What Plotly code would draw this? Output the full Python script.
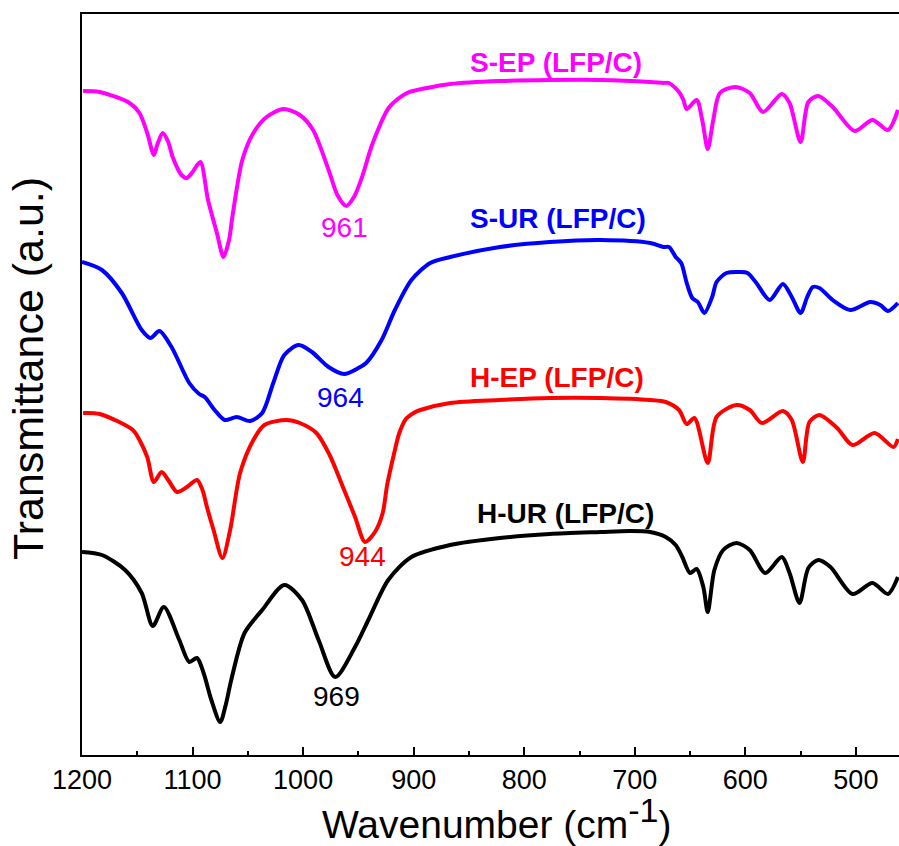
import plotly.graph_objects as go

# ---- data (wavenumber in cm^-1, transmittance in a.u., curves already offset) ----
sep_wn = [1199, 1184, 1157, 1148, 1141, 1135, 1132, 1127, 1122, 1118, 1110, 1105, 1100, 1093, 1086,
          1078, 1072, 1067, 1064, 1055, 1045, 1033, 1018, 1003, 991, 976, 969, 961, 954, 947, 937, 922, 906,
          888, 867, 822, 777, 731, 686, 674, 669, 660, 656, 653, 644, 639, 634, 629, 623, 609, 596, 584, 567,
          560, 550, 543, 534, 521, 501, 485, 471, 462]
sep_t = [664, 663, 652, 642, 622, 600, 610, 622, 613, 598, 580, 577, 583, 593, 555,
         522, 498, 515, 538, 595, 622, 638, 646, 640, 625, 582, 560, 549, 558, 577, 612, 648, 662,
         667, 671, 674, 675, 675, 673, 672, 672, 663, 655, 646, 655, 635, 606, 635, 662, 668, 662, 643, 661,
         652, 613, 653, 659, 648, 624, 635, 625, 645]

sur_wn = [1200, 1182, 1164, 1146, 1138, 1130, 1119, 1103, 1094, 1089, 1080, 1071, 1060, 1048, 1037, 1027,
          1017, 1004, 992, 977, 963, 950, 943, 929, 917, 902, 885, 867, 822, 777, 731, 686, 674, 669, 663,
          658, 653, 648, 643, 637, 630, 626, 617, 605, 598, 590, 578, 566, 558, 550, 544, 539, 533, 521,
          505, 487, 478, 471, 462]
sur_t = [493, 485, 462, 425, 417, 424, 408, 372, 361, 358, 345, 335, 338, 334, 342, 372,
         400, 410, 403, 388, 381, 387, 392, 415, 445, 475, 492, 498, 508, 513, 515, 512, 508, 508, 498,
         492, 472, 457, 453, 442, 458, 473, 482, 483, 482, 472, 455, 471, 458, 442, 458, 468, 467, 455,
         445, 453, 450, 444, 452]

hep_wn = [1199, 1184, 1154, 1148, 1141, 1135, 1128, 1122, 1114, 1105, 1096, 1091, 1087, 1081, 1073, 1066,
          1057, 1045, 1035, 1015, 1003, 988, 976, 964, 953, 944, 935, 928, 924, 918, 913, 907, 900, 894,
          867, 822, 777, 731, 686, 672, 660, 653, 646, 634, 626, 608, 596, 585, 566, 558, 548, 542, 533,
          517, 503, 483, 466, 462]
hep_t = [342, 341, 325, 315, 298, 273, 283, 275, 263, 268, 275, 265, 248, 225, 197, 225,
         282, 315, 330, 335, 332, 322, 300, 268, 238, 213, 223, 242, 270, 300, 322, 336, 342, 345,
         352, 355, 357, 357, 355, 353, 345, 331, 337, 292, 338, 350, 345, 332, 344, 335, 293, 333, 340,
         327, 310, 322, 308, 316]

hur_wn = [1200, 1182, 1161, 1146, 1136, 1126, 1112, 1103, 1096, 1090, 1083, 1075, 1070, 1065, 1053, 1037,
          1017, 1001, 986, 971, 953, 941, 923, 902, 867, 822, 777, 731, 704, 686, 672, 663, 657, 650, 644,
          638, 634, 628, 620, 608, 596, 582, 567, 560, 551, 543, 534, 523, 503, 485, 471, 462]
hur_t = [203, 200, 185, 162, 129, 148, 115, 93, 97, 82, 55, 33, 50, 75, 122, 145,
         170, 155, 115, 78, 108, 135, 175, 198, 210, 217, 221, 223, 224, 223, 218, 210, 198, 182, 186,
         168, 143, 185, 205, 212, 205, 182, 198, 182, 152, 187, 195, 188, 161, 172, 161, 178]

series_names = ["S-EP (LFP/C)", "S-UR (LFP/C)", "H-EP (LFP/C)", "H-UR (LFP/C)"]
series_colors = ["#FF00FF", "#0000FF", "#FF0000", "#000000"]
label_pos_wn = [771, 769, 770, 763]
label_pos_t = [693, 537, 378, 242]

peak_labels = ["961", "964", "944", "969"]
peak_wn = [963, 966, 946, 970]
peak_t = [528, 358, 199, 59]

x_ticks = [1200, 1100, 1000, 900, 800, 700, 600, 500]

FONT = "Liberation Sans, Arial, Helvetica, sans-serif"

fig = go.Figure()
for wn, t, name, col in zip([sep_wn, sur_wn, hep_wn, hur_wn], [sep_t, sur_t, hep_t, hur_t],
                            series_names, series_colors):
    fig.add_trace(go.Scatter(x=wn, y=t, mode="lines", name=name,
                             line=dict(color=col, width=4, shape="spline", smoothing=0.8),
                             showlegend=False))

annotations = []
for name, col, xw, yt in zip(series_names, series_colors, label_pos_wn, label_pos_t):
    annotations.append(dict(x=xw, y=yt, xref="x", yref="y", text="<b>%s</b>" % name, showarrow=False,
                            font=dict(family=FONT, size=28, color=col), xanchor="center", yanchor="middle"))
for lab, col, xw, yt in zip(peak_labels, series_colors, peak_wn, peak_t):
    annotations.append(dict(x=xw, y=yt, xref="x", yref="y", text=lab, showarrow=False,
                            font=dict(family=FONT, size=28, color=col), xanchor="center", yanchor="middle"))
# axis titles
annotations.append(dict(x=0.508, y=-0.046, xref="paper", yref="paper",
                        text="Wavenumber (cm<sup><span style='font-size:34px'>-1</span></sup>)",
                        showarrow=False,
                        font=dict(family=FONT, size=39, color="black"), xanchor="center", yanchor="top"))
annotations.append(dict(x=-0.066, y=0.521, xref="paper", yref="paper", text="Transmittance (a.u.)",
                        showarrow=False, textangle=-90,
                        font=dict(family=FONT, size=43, color="black"), xanchor="center", yanchor="middle"))

fig.update_layout(
    width=899, height=846,
    margin=dict(l=82, r=0, t=14, b=91),
    paper_bgcolor="white", plot_bgcolor="white",
    font=dict(family=FONT, color="black"),
    annotations=annotations,
    xaxis=dict(range=[1200, 461], tickvals=x_ticks, ticktext=[str(v) for v in x_ticks],
               ticks="inside", ticklen=8, tickwidth=2, tickcolor="black",
               minor=dict(ticks="inside", ticklen=4, tickwidth=2, tickcolor="black", dtick=50, tick0=0),
               showline=True, linewidth=2, linecolor="black", mirror=True,
               showgrid=False, zeroline=False,
               tickfont=dict(family=FONT, size=27, color="black")),
    yaxis=dict(range=[0, 741], showticklabels=False, ticks="", showline=True, linewidth=2,
               linecolor="black", mirror=False, showgrid=False, zeroline=False),
)

# remove the default 8px page margin so the 899x846 figure fills the window exactly
fig.write_html("out.html", config={"displayModeBar": False},
               post_script="document.body.style.margin='0';document.body.style.overflow='hidden';")
